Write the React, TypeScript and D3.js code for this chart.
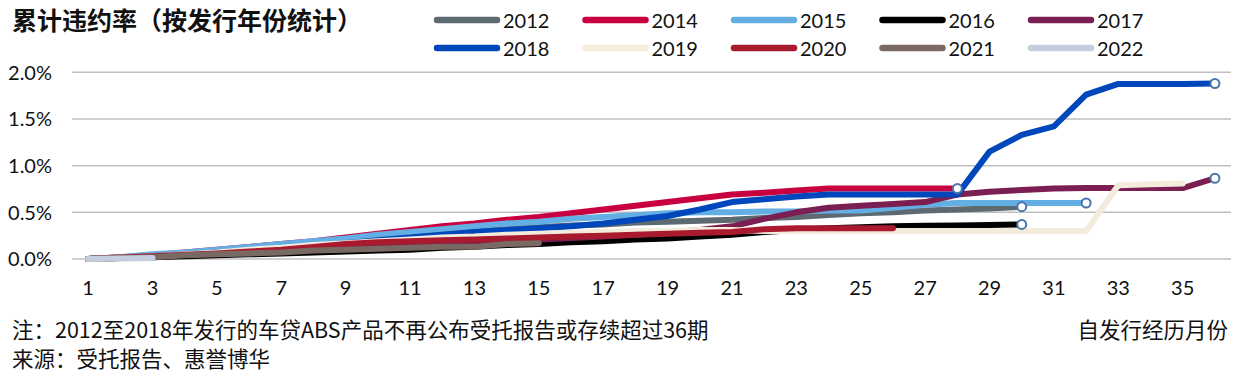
import React from "react";
import * as d3 from "d3";

const months = Array.from({ length: 36 }, (_, i) => i + 1);
const xTickLabels = [1, 3, 5, 7, 9, 11, 13, 15, 17, 19, 21, 23, 25, 27, 29, 31, 33, 35];
const yTicks = [0, 0.005, 0.01, 0.015, 0.02];

// values in percent
const s2012 = [0, 0.01, 0.03, 0.05, 0.08, 0.1, 0.13, 0.16, 0.19, 0.22, 0.25, 0.28, 0.3, 0.32, 0.34, 0.36, 0.37, 0.39, 0.4, 0.41, 0.42, 0.44, 0.45, 0.47, 0.49, 0.5, 0.52, 0.53, 0.54, 0.56];
const s2014 = [0, 0.02, 0.04, 0.07, 0.1, 0.13, 0.16, 0.19, 0.23, 0.27, 0.31, 0.35, 0.38, 0.42, 0.45, 0.49, 0.53, 0.57, 0.61, 0.65, 0.69, 0.71, 0.735, 0.755, 0.755, 0.755, 0.755, 0.755];
const s2015 = [0, 0.02, 0.05, 0.07, 0.1, 0.13, 0.16, 0.19, 0.22, 0.26, 0.29, 0.32, 0.35, 0.38, 0.4, 0.43, 0.45, 0.47, 0.49, 0.5, 0.5, 0.51, 0.51, 0.52, 0.52, 0.55, 0.58, 0.6, 0.6, 0.6, 0.6, 0.6];
const s2016 = [0, 0.01, 0.02, 0.03, 0.04, 0.05, 0.06, 0.07, 0.08, 0.09, 0.1, 0.12, 0.13, 0.15, 0.16, 0.18, 0.19, 0.21, 0.22, 0.24, 0.26, 0.29, 0.31, 0.33, 0.34, 0.35, 0.355, 0.36, 0.365, 0.37];
const s2017 = [0, 0.015, 0.03, 0.045, 0.06, 0.075, 0.09, 0.105, 0.12, 0.135, 0.15, 0.165, 0.18, 0.195, 0.21, 0.225, 0.24, 0.26, 0.28, 0.31, 0.35, 0.43, 0.5, 0.55, 0.57, 0.59, 0.61, 0.69, 0.72, 0.74, 0.755, 0.76, 0.76, 0.76, 0.76, 0.865];
const s2018 = [0, 0.015, 0.03, 0.05, 0.07, 0.09, 0.11, 0.14, 0.17, 0.2, 0.23, 0.26, 0.29, 0.31, 0.33, 0.35, 0.38, 0.42, 0.46, 0.53, 0.61, 0.64, 0.67, 0.69, 0.69, 0.69, 0.69, 0.69, 1.15, 1.33, 1.42, 1.76, 1.875, 1.875, 1.875, 1.88];
const s2019 = [0, 0.015, 0.03, 0.05, 0.07, 0.1, 0.12, 0.15, 0.17, 0.19, 0.21, 0.23, 0.24, 0.26, 0.27, 0.28, 0.29, 0.3, 0.3, 0.31, 0.31, 0.3, 0.3, 0.3, 0.3, 0.3, 0.3, 0.3, 0.3, 0.3, 0.3, 0.3, 0.79, 0.8, 0.81];
const s2020 = [0, 0.015, 0.03, 0.045, 0.06, 0.08, 0.1, 0.13, 0.16, 0.18, 0.19, 0.2, 0.21, 0.22, 0.23, 0.24, 0.25, 0.26, 0.27, 0.28, 0.29, 0.32, 0.33, 0.33, 0.33, 0.33];
const s2021 = [0, 0.01, 0.02, 0.04, 0.05, 0.06, 0.07, 0.09, 0.1, 0.11, 0.12, 0.13, 0.13, 0.16, 0.17];
const s2022 = [0, 0.005, 0.01];

const seriesNames = ["2012", "2014", "2015", "2016", "2017", "2018", "2019", "2020", "2021", "2022"];
const seriesValues = [s2012, s2014, s2015, s2016, s2017, s2018, s2019, s2020, s2021, s2022];
const seriesColors = ["#5E6A71", "#C8003F", "#63AEE3", "#000000", "#7B1F52", "#0047BB", "#F3ECDD", "#AA1A2E", "#786A62", "#C5CEDF"];
const seriesEndMarker = [true, true, true, true, true, true, false, false, false, false];

const title = "累计违约率（按发行年份统计）";
const note = "注：2012至2018年发行的车贷ABS产品不再公布受托报告或存续超过36期";
const source = "来源：受托报告、惠誉博华";
const xTitle = "自发行经历月份";

const W = 1240;
const H = 379;
const numFont = "Lato, 'Noto Sans CJK SC', sans-serif";
const cjkFont = "'Noto Sans CJK SC', 'Noto Sans', sans-serif";

export default function App() {
  const x = d3.scaleBand<number>().domain(months).range([72, 1231]).padding(0);
  const cx = (m: number) => (x(m) as number) + x.bandwidth() / 2;
  const y = d3.scaleLinear().domain([0, 0.02]).range([259, 72.3]);

  const line = d3
    .line<number>()
    .x((_, i) => cx(months[i]))
    .y((v) => y(v / 100));

  const legendX0 = 434;
  const legendDX = 148.5;
  const legendRowsY = [20, 48];

  return (
    <svg
      width={W}
      height={H}
      style={{ position: "absolute", left: 0, top: 0, background: "#fff" }}
    >
      <text x={12} y={30} fontFamily={cjkFont} fontWeight={700} fontSize={25} fill="#111">
        {title}
      </text>

      {/* legend */}
      {seriesNames.map((name, i) => {
        const col = i % 5;
        const row = Math.floor(i / 5);
        const lx = legendX0 + col * legendDX;
        const ly = legendRowsY[row];
        return (
          <g key={name}>
            <line
              x1={lx + 3}
              x2={lx + 63}
              y1={ly}
              y2={ly}
              stroke={seriesColors[i]}
              strokeWidth={6.5}
              strokeLinecap="round"
            />
            <text x={lx + 69} y={ly + 7.5} fontFamily={numFont} fontSize={20} fill="#111">
              {name}
            </text>
          </g>
        );
      })}

      {/* grid */}
      {yTicks.map((t) => (
        <g key={t}>
          <line x1={72} x2={1231} y1={y(t)} y2={y(t)} stroke="#BFBFBF" strokeWidth={1.5} />
          <text
            x={52}
            y={y(t)}
            dy="0.36em"
            textAnchor="end"
            fontFamily={numFont}
            fontSize={20}
            fill="#111"
          >
            {d3.format(".1%")(t)}
          </text>
        </g>
      ))}

      {/* x tick labels */}
      {xTickLabels.map((m) => (
        <text
          key={m}
          x={cx(m)}
          y={295}
          textAnchor="middle"
          fontFamily={numFont}
          fontSize={20}
          fill="#111"
        >
          {m}
        </text>
      ))}

      {/* lines */}
      {seriesValues.map((vals, i) => (
        <path
          key={seriesNames[i]}
          d={line(vals) || ""}
          fill="none"
          stroke={seriesColors[i]}
          strokeWidth={6}
          strokeLinejoin="round"
          strokeLinecap="round"
        />
      ))}

      {/* end markers */}
      {seriesValues.map((vals, i) =>
        seriesEndMarker[i] ? (
          <circle
            key={"m" + seriesNames[i]}
            cx={cx(months[vals.length - 1])}
            cy={y(vals[vals.length - 1] / 100)}
            r={4.5}
            fill="#fff"
            stroke="#4A74AC"
            strokeWidth={2}
          />
        ) : null
      )}

      <text x={12} y={338} fontFamily={cjkFont} fontSize={21.5} fill="#111">
        {note}
      </text>
      <text x={12} y={367} fontFamily={cjkFont} fontSize={21.5} fill="#111">
        {source}
      </text>
      <text x={1228} y={338} textAnchor="end" fontFamily={cjkFont} fontSize={21.5} fill="#111">
        {xTitle}
      </text>
    </svg>
  );
}
